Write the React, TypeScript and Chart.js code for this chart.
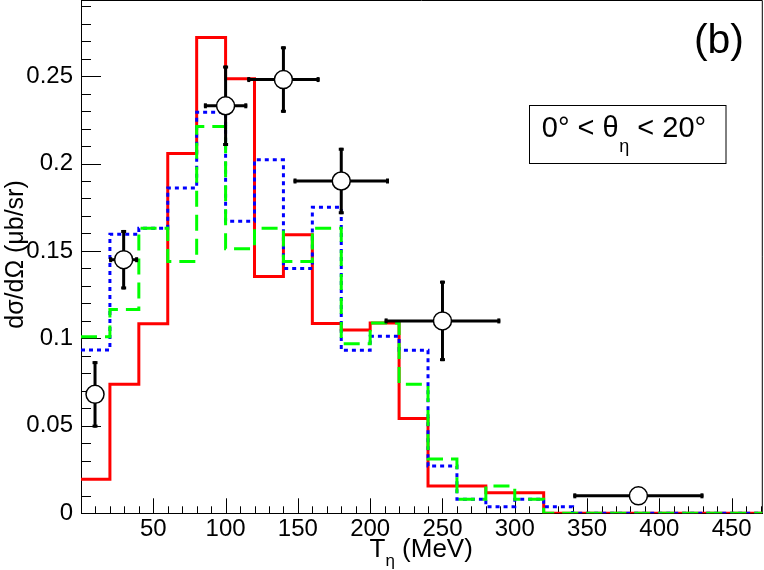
import { useEffect, useRef } from 'react'
import { Chart, LineController, LineElement, PointElement, LinearScale } from 'chart.js'

Chart.register(LineController, LineElement, PointElement, LinearScale)

const FONT = '"Liberation Sans", Arial, Helvetica, sans-serif'

// histogram bin edges (MeV), 20 MeV bins
const binEdges = [0, 20, 40, 60, 80, 100, 120, 140, 160, 180, 200, 220, 240, 260, 280, 300, 320, 340, 360, 380, 400, 420, 440, 460, 480]

// model curves, one value per bin
const redHist = [0.0194, 0.0738, 0.1084, 0.2057, 0.272, 0.2484, 0.1354, 0.1593, 0.1085, 0.1048, 0.1088, 0.0542, 0.0156, 0.0156, 0.0118, 0.0118, 0, 0, 0, 0, 0, 0, 0, 0]
const blueHist = [0.0933, 0.1595, 0.163, 0.186, 0.2293, 0.167, 0.2021, 0.14, 0.175, 0.0932, 0.1012, 0.0932, 0.027, 0.008, 0.0038, 0.008, 0.0038, 0, 0, 0, 0, 0, 0, 0]
const greenHist = [0.101, 0.1165, 0.163, 0.144, 0.2212, 0.1513, 0.163, 0.144, 0.163, 0.097, 0.1088, 0.0738, 0.031, 0.008, 0.0156, 0.008, 0, 0, 0, 0, 0, 0, 0, 0]

// measured points
const dataX = [9.7, 29.5, 100, 140, 180, 250, 385.5]
const dataY = [0.068, 0.145, 0.233, 0.248, 0.19, 0.11, 0.01]
const dataXErr = [0, 10, 15, 25, 33, 40, 45]
const dataYErr = [0.019, 0.017, 0.023, 0.019, 0.019, 0.023, 0.003]

const xTicks = [50, 100, 150, 200, 250, 300, 350, 400, 450]
const xTickLabels = ['50', '100', '150', '200', '250', '300', '350', '400', '450']
const yTicks = [0, 0.05, 0.1, 0.15, 0.2, 0.25]
const yTickLabels = ['0', '0.05', '0.1', '0.15', '0.2', '0.25']

const X_MAX = 471.2
const Y_MAX = 0.2932

function histPoints(values: number[]) {
  const pts = values.map((v, i) => ({ x: binEdges[i], y: v }))
  pts.push({ x: binEdges[values.length], y: values[values.length - 1] })
  return pts
}

const errorBars = {
  id: 'errorBars',
  beforeDatasetDraw(chart: any, args: any) {
    if (args.index !== 0) return
    const { x, y } = chart.scales
    const ctx = chart.ctx
    ctx.save()
    ctx.strokeStyle = '#000'
    ctx.lineWidth = 3
    const seg = (x1: number, y1: number, x2: number, y2: number) => {
      ctx.beginPath()
      ctx.moveTo(x1, y1)
      ctx.lineTo(x2, y2)
      ctx.stroke()
    }
    dataX.forEach((vx, i) => {
      const px = x.getPixelForValue(vx)
      const py = y.getPixelForValue(dataY[i])
      if (dataXErr[i] > 0) {
        const l = x.getPixelForValue(vx - dataXErr[i])
        const r = x.getPixelForValue(vx + dataXErr[i])
        seg(l, py, r, py)
        seg(l + 1.5, py - 2.5, l + 1.5, py + 2.5)
        seg(r - 1.5, py - 2.5, r - 1.5, py + 2.5)
      }
      if (dataYErr[i] > 0) {
        const t = y.getPixelForValue(dataY[i] + dataYErr[i])
        const b = y.getPixelForValue(dataY[i] - dataYErr[i])
        seg(px, t, px, b)
        seg(px - 2.5, t + 1.5, px + 2.5, t + 1.5)
        seg(px - 2.5, b - 1.5, px + 2.5, b - 1.5)
      }
    })
    ctx.restore()
  },
}

const frameTicks = {
  id: 'frameTicks',
  beforeDatasetsDraw(chart: any) {
    const { x, y } = chart.scales
    const { left, right, top, bottom } = chart.chartArea
    const ctx = chart.ctx
    ctx.save()
    ctx.strokeStyle = '#000'
    ctx.lineWidth = 1
    ctx.beginPath()
    ctx.moveTo(left, top)
    ctx.lineTo(right, top)
    ctx.lineTo(right, bottom)
    ctx.stroke()
    ctx.beginPath()
    for (let v = 10; v < X_MAX; v += 10) {
      const px = Math.round(x.getPixelForValue(v)) + 0.5
      const len = v % 50 === 0 ? 15 : 7
      ctx.moveTo(px, bottom)
      ctx.lineTo(px, bottom - len)
    }
    for (let k = 1; k * 0.01 < Y_MAX; k++) {
      const py = Math.round(y.getPixelForValue(k * 0.01)) + 0.5
      const len = k % 5 === 0 ? 20 : 10
      ctx.moveTo(left, py)
      ctx.lineTo(left + len, py)
    }
    ctx.stroke()
    ctx.restore()
  },
}

const annotations = {
  id: 'annotations',
  afterDraw(chart: any) {
    const ctx = chart.ctx
    ctx.save()
    ctx.fillStyle = '#000'
    ctx.textBaseline = 'alphabetic'

    ctx.font = `41px ${FONT}`
    ctx.textAlign = 'right'
    ctx.fillText('(b)', 744, 53)

    ctx.fillStyle = '#fff'
    ctx.fillRect(529.5, 105.5, 196.5, 58)
    ctx.strokeStyle = '#000'
    ctx.lineWidth = 1
    ctx.strokeRect(529.5, 105.5, 196.5, 58)

    ctx.fillStyle = '#000'
    ctx.textAlign = 'left'
    let tx = 541.8
    ctx.font = `29px ${FONT}`
    ctx.fillText('0° < θ', tx, 137)
    tx += ctx.measureText('0° < θ').width + 0.5
    ctx.font = `18px ${FONT}`
    ctx.fillText('η', tx, 152)
    tx += ctx.measureText('η').width
    ctx.font = `29px ${FONT}`
    ctx.fillText(' < 20°', tx, 137)

    // x title
    let ax = 369.5
    ctx.font = `26px ${FONT}`
    ctx.fillText('T', ax, 557)
    ax += ctx.measureText('T').width
    ctx.font = `17px ${FONT}`
    ctx.fillText('η', ax, 566)
    ax += ctx.measureText('η').width
    ctx.font = `26px ${FONT}`
    ctx.fillText(' (MeV)', ax, 557)

    // y title
    ctx.translate(22.5, 254.5)
    ctx.rotate(-Math.PI / 2)
    ctx.textAlign = 'center'
    ctx.font = `25px ${FONT}`
    ctx.fillText('dσ/dΩ (μb/sr)', 0, 0)
    ctx.restore()
  },
}

const noPadding = (axis: any) => {
  axis.paddingLeft = 0
  axis.paddingRight = 0
  axis.paddingTop = 0
  axis.paddingBottom = 0
}

export default function App() {
  const ref = useRef<HTMLCanvasElement>(null)

  useEffect(() => {
    if (!ref.current) return
    const chart = new Chart(ref.current, {
      type: 'line',
      data: {
        datasets: [
          {
            label: 'data',
            data: dataX.map((x, i) => ({ x, y: dataY[i] })),
            showLine: false,
            pointRadius: 9,
            pointBackgroundColor: '#fff',
            pointBorderColor: '#000',
            pointBorderWidth: 1.5,
          },
          {
            label: 'green',
            data: histPoints(greenHist),
            stepped: true,
            borderColor: '#00ff00',
            borderWidth: 3,
            borderDash: [16, 8],
            pointRadius: 0,
            fill: false,
          },
          {
            label: 'blue',
            data: histPoints(blueHist),
            stepped: true,
            borderColor: '#0000ff',
            borderWidth: 3,
            borderDash: [4, 4],
            pointRadius: 0,
            fill: false,
          },
          {
            label: 'red',
            data: histPoints(redHist),
            stepped: true,
            borderColor: '#ff0000',
            borderWidth: 3,
            pointRadius: 0,
            fill: false,
          },
        ],
      },
      options: {
        animation: false,
        responsive: false,
        maintainAspectRatio: false,
        events: [],
        layout: { autoPadding: false, padding: { top: 0.5, right: 1.7, left: 0, bottom: 0 } },
        plugins: { legend: { display: false }, tooltip: { enabled: false } },
        scales: {
          x: {
            type: 'linear',
            min: 0,
            max: X_MAX,
            grid: { display: false, drawTicks: false },
            border: { display: true, color: '#000', width: 1 },
            ticks: {
              color: '#000',
              font: { family: FONT, size: 24 },
              padding: 2,
              maxRotation: 0,
              autoSkip: false,
              callback: (_v: any, i: number) => xTickLabels[i],
            },
            afterBuildTicks: (axis: any) => {
              axis.ticks = xTicks.map((value) => ({ value }))
            },
            afterFit: (axis: any) => {
              axis.height = 56.7
              noPadding(axis)
            },
          },
          y: {
            type: 'linear',
            min: 0,
            max: Y_MAX,
            grid: { display: false, drawTicks: false },
            border: { display: true, color: '#000', width: 1 },
            ticks: {
              color: '#000',
              font: { family: FONT, size: 24 },
              padding: 8,
              autoSkip: false,
              callback: (_v: any, i: number) => yTickLabels[i],
            },
            afterBuildTicks: (axis: any) => {
              axis.ticks = yTicks.map((value) => ({ value }))
            },
            afterFit: (axis: any) => {
              axis.width = 81
              noPadding(axis)
            },
          },
        },
      },
      plugins: [frameTicks, errorBars, annotations],
    })
    return () => chart.destroy()
  }, [])

  return (
    <div style={{ position: 'absolute', left: 0, top: 0, width: 764, height: 570, background: '#fff' }}>
      <canvas ref={ref} width={764} height={570} style={{ width: 764, height: 570 }} />
    </div>
  )
}
